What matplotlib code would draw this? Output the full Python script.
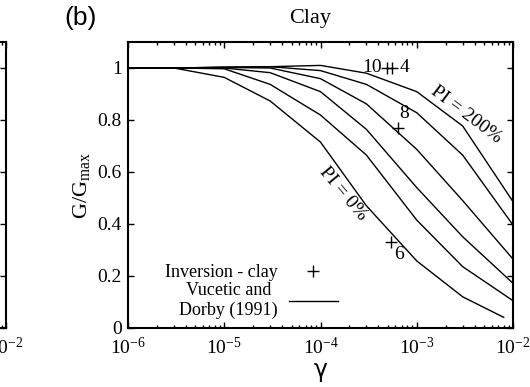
import matplotlib.pyplot as plt
import numpy as np

plt.rcParams['font.family'] = 'Liberation Serif'
plt.rcParams['mathtext.fontset'] = 'custom'
plt.rcParams['mathtext.rm'] = 'Liberation Serif'
plt.rcParams['mathtext.it'] = 'Liberation Serif:italic'

## DATA
# shear strain (decimal) for the Vucetic & Dobry curves
gamma = [1e-6, 3e-6, 1e-5, 3e-5, 1e-4, 3e-4, 1e-3, 3e-3, 1e-2]
gamma_pi0 = [1e-6, 3e-6, 1e-5, 3e-5, 1e-4, 3e-4, 1e-3, 3e-3, 8e-3]

# G/Gmax for each plasticity index
ratio_pi0 = [1.0, 1.0, 0.964, 0.873, 0.715, 0.47, 0.258, 0.12, 0.041]
ratio_pi15 = [1.0, 1.0, 0.997, 0.937, 0.819, 0.665, 0.415, 0.236, 0.105]
ratio_pi30 = [1.0, 1.0, 1.0, 0.982, 0.909, 0.764, 0.54, 0.351, 0.172]
ratio_pi50 = [1.0, 1.0, 1.002, 1.0, 0.959, 0.862, 0.687, 0.49, 0.265]
ratio_pi100 = [1.0, 1.0, 1.003, 1.005, 0.99, 0.937, 0.828, 0.665, 0.396]
ratio_pi200 = [1.0, 1.0, 1.003, 1.005, 1.01, 0.98, 0.909, 0.777, 0.486]

# inversion results for clay layers
inv_gamma = [4.9e-4, 5.5e-4, 6.4e-4, 5.4e-4]
inv_ratio = [1.0, 1.0, 0.77, 0.33]
inv_layer = ['10', '4', '8', '6']

xtick_vals = [1e-6, 1e-5, 1e-4, 1e-3, 1e-2]
xtick_labels = [r'$10^{-6}$', r'$10^{-5}$', r'$10^{-4}$', r'$10^{-3}$', r'$10^{-2}$']
ytick_vals = [0, 0.2, 0.4, 0.6, 0.8, 1.0]
ytick_labels = ['0', '0.2', '0.4', '0.6', '0.8', '1']

W, H = 530, 387
fig = plt.figure(figsize=(W / 100, H / 100), dpi=100)

def setup(ax):
    ax.set_xscale('log')
    ax.set_xlim(1e-6, 1e-2)
    ax.set_ylim(0, 1.1)
    ax.set_xticks(xtick_vals)
    ax.set_xticklabels(xtick_labels)
    ax.set_yticks(ytick_vals)
    ax.set_yticklabels(ytick_labels)
    ax.tick_params(which='both', direction='in', top=True, right=True, width=1.0, labelsize=14)
    ax.tick_params(which='major', length=4.5, pad=4.5)
    ax.tick_params(axis='x', which='major', pad=6.5)
    ax.tick_params(which='minor', length=2.3)
    for s in ax.spines.values():
        s.set_linewidth(1.5)

# right edge of panel (a), mostly off the page
ax0 = fig.add_axes([6 / W - 385 / W, 1 - 328 / H, 385 / W, 286 / H])
setup(ax0)
ax0.set_yticklabels([])

ax = fig.add_axes([128 / W, 1 - 328 / H, 385 / W, 286 / H])
setup(ax)

lw = 1.0
ax.plot(gamma_pi0, ratio_pi0, color='black', lw=lw, label='Vucetic and\nDorby (1991)')
for r in [ratio_pi15, ratio_pi30, ratio_pi50, ratio_pi100, ratio_pi200]:
    ax.plot(gamma, r, color='black', lw=lw)

inv, = ax.plot(inv_gamma, inv_ratio, '+', color='black', ms=9, mew=1.0, label='Inversion - clay')

# layer numbers beside the inversion points
offsets = [(-4, 0, 'right', 'center'), (6, 0, 'left', 'center'),
           (1, 4, 'left', 'bottom'), (2, -3, 'left', 'top')]
for gx, gy, lab, (dx, dy, ha, va) in zip(inv_gamma, inv_ratio, inv_layer, offsets):
    ax.annotate(lab, (gx, gy), xytext=(dx, dy), textcoords='offset points',
                ha=ha, va=va, fontsize=14)

ax.text(3.25e-3, 0.82, 'PI = 200%', rotation=-37, ha='center', va='center', fontsize=14)
ax.text(1.7e-4, 0.517, 'PI = 0%', rotation=-50, ha='center', va='center', fontsize=14)

handles, labels = ax.get_legend_handles_labels()
leg = ax.legend([handles[1], handles[0]], [labels[1], labels[0]], loc='lower right',
                bbox_to_anchor=(0.568, 0.0), frameon=False, markerfirst=False,
                alignment='right', fontsize=13, handlelength=2.7, handletextpad=0.6,
                labelspacing=0.05, borderpad=0)
leg.get_texts()[1].set_multialignment('center')

ax.set_ylabel(r'G/G$_{\mathrm{max}}$', fontsize=16, labelpad=4)
ax.set_xlabel('γ', family='DejaVu Sans', fontsize=17, labelpad=0)
fig.text(310 / W, 1 - 18 / H, 'Clay', ha='center', va='center', fontsize=16)
fig.text(81 / W, 1 - 18 / H, '(b)', ha='center', va='center', family='Liberation Sans', fontsize=19)

fig.savefig('out.png', dpi=100)
